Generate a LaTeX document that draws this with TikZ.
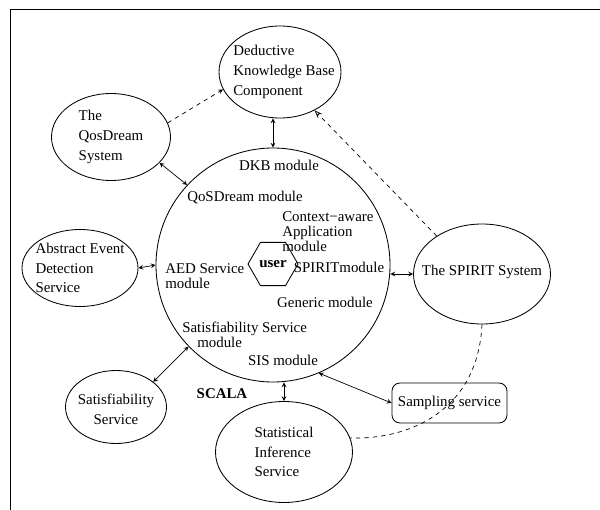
\documentclass[tikz,border=0pt]{standalone}
\usepackage{fontspec}
\setmainfont{Liberation Serif}
\usetikzlibrary{shapes,arrows,arrows.meta,positioning}

\begin{document}
\begin{tikzpicture}[x=0.25mm, y=-0.25mm,
    font=\fontsize{10.6}{14}\selectfont,
    service/.style={ellipse, draw, line width=0.6pt, inner sep=0pt},
    caption/.style={align=left, inner sep=0pt},
    module/.style={align=left, inner sep=0pt, font=\fontsize{10.6}{10.7}\selectfont},
    core/.style={circle, draw, line width=0.6pt, inner sep=0pt, minimum size=58.5mm},
    userhex/.style={regular polygon, regular polygon sides=6, draw, line width=0.6pt, inner sep=0pt, minimum size=12.5mm},
    external/.style={rectangle, rounded corners=2mm, draw, line width=0.6pt, inner sep=0pt, minimum width=28.75mm, minimum height=10mm},
    link/.style={<->, >=stealth, line width=0.5pt},
    hint/.style={dashed, line width=0.5pt}
]
\useasboundingbox (0,0) rectangle (600,510);

% Page frame (top and left edges)
\draw[line width=0.6pt] (10,510) -- (10,9) -- (600,9);

% SCALA core and its modules
\node[core] (scala) at (273,265) {};
\node[userhex] (user) at (273,264) {\textbf{user}};
\node[module] (dkb_mod) at (279,165) {DKB module};
\node[module] (qos_mod) at (245,198) {QoSDream module};
\node[module, anchor=west] (ctx_mod) at (282,232) {Context−aware\\Application\\module};
\node[module] (spirit_mod) at (339,267) {SPIRITmodule};
\node[module, anchor=west] (aed_mod) at (165,276) {AED Service\\module};
\node[module] (gen_mod) at (325,302) {Generic module};
\node[module, anchor=west] (sat_mod) at (182,335) {Satisfiability Service\\\hspace*{3.75mm}module};
\node[module] (sis_mod) at (283,360) {SIS module};
\node[module] (scala_lbl) at (222,394) {\textbf{SCALA}};

% External services
\node[service, minimum width=30.5mm, minimum height=23mm] (dkb) at (280,72) {};
\node[caption] (dkb_txt) at (284,72) {Deductive\\Knowledge Base\\Component};

\node[service, minimum width=29.75mm, minimum height=21.75mm] (qos) at (111,137) {};
\node[caption] (qos_txt) at (qos) {The\\QosDream\\System};

\node[service, minimum width=29mm, minimum height=19.25mm] (aed) at (80,268) {};
\node[caption] (aed_txt) at (aed) {Abstract Event\\Detection\\Service};

\node[service, minimum width=34.25mm, minimum height=25mm] (spirit) at (482,274) {};
\node[caption] (spirit_txt) at (482,272) {The SPIRIT System};

\node[service, minimum width=25.25mm, minimum height=18.25mm] (sat) at (116,407) {};
\node[caption, align=center] (sat_txt) at (116,409) {Satisfiability\\Service};

\node[service, minimum width=34.25mm, minimum height=25.25mm] (stat) at (284,452) {};
\node[caption] (stat_txt) at (stat) {Statistical\\Inference\\Service};

\node[external] (sampling) at (449.5,403) {Sampling service};

% Links between SCALA and the services
\draw[link] (dkb.south -| scala.north) -- (scala.north);
\draw[link] (qos.-28) -- (scala.137);
\draw[link] (aed.east) -- (scala.west);
\draw[link] (spirit.west -| scala.east) -- (spirit.west);
\draw[link] (sat.34) -- (scala.-136);
\draw[link] (stat.north |- scala.south) -- (stat.north);
\draw[link] (scala.-67) -- (sampling.west);

% Dashed relations
\draw[hint, ->, >=stealth] (qos.14) -- (dkb.197);
\draw[hint, -{Stealth[open, length=2mm, width=1.5mm]}] (spirit.140) -- (dkb.-48);
\draw[hint] (spirit.south) .. controls (478,410) and (410,440) .. (stat.12);

\end{tikzpicture}
\end{document}
